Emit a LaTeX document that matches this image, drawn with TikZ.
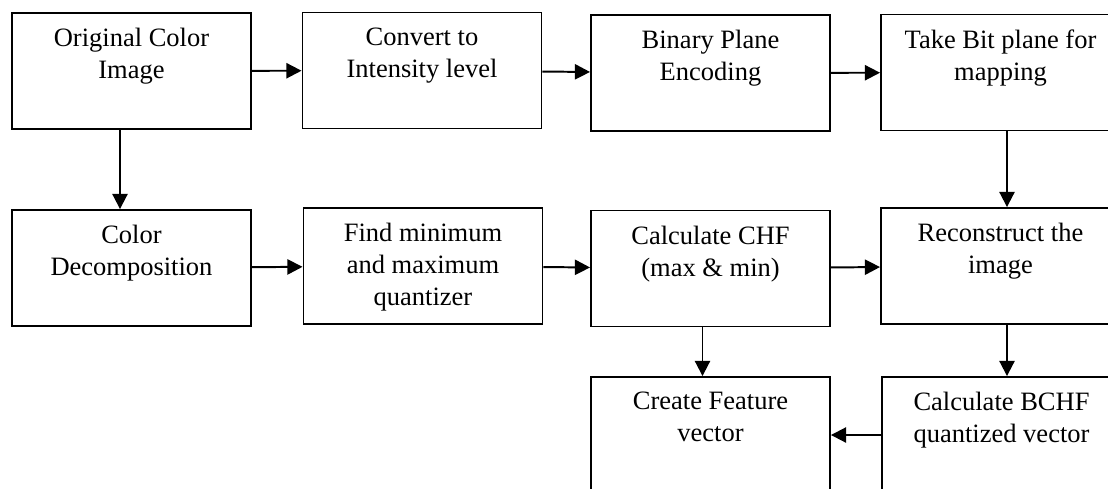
\documentclass[tikz,border=0pt]{standalone}
\usepackage{fontspec}
\setmainfont{Liberation Serif}
\usetikzlibrary{arrows.meta,positioning,calc}

\begin{document}
\begin{tikzpicture}[
  font=\fontsize{18.85}{22.76}\selectfont,
  stage/.style={draw=black, line width=1.35pt, minimum width=5.975cm, minimum height=2.9cm, inner sep=0pt},
  caption/.style={align=center, inner sep=0pt, anchor=north},
  arrow/.style={-{Triangle[length=3.8mm, width=3.8mm]}, line width=1.4pt, draw=black}
]
\useasboundingbox (0,0) rectangle (27.7,-12.2);
\clip (0,0) rectangle (27.7,-12.2);

% first row
\node[stage] (orig) at (3.2875,-1.775) {};
\node[stage] (conv) at (10.55,-1.7625) {};
\node[stage] (bin) at (17.7625,-1.825) {};
\node[stage] (take) at (25.0125,-1.8125) {};

% second row
\node[stage] (decomp) at (3.2875,-6.70) {};
\node[stage] (quant) at (10.575,-6.65) {};
\node[stage] (chf) at (17.7625,-6.7125) {};
\node[stage] (recon) at (25.0125,-6.65) {};

% third row
\node[stage] (feat) at (17.7625,-10.875) {};
\node[stage] (bchf) at (25.0375,-10.875) {};

% box texts, set from the top edge
\node[caption, below=0.4cm of orig.north] (origtext) {Original Color\\Image};
\node[caption, below=0.4cm of conv.north] (convtext) {Convert to\\Intensity level};
\node[caption, below=0.4cm of bin.north] (bintext) {Binary Plane\\Encoding};
\node[caption, below=0.4cm of take.north] (taketext) {Take Bit plane for\\mapping};
\node[caption, below=0.4cm of decomp.north] (decomptext) {Color\\Decomposition};
\node[caption, below=0.4cm of quant.north] (quanttext) {Find minimum\\and maximum\\quantizer};
\node[caption, below=0.4cm of chf.north] (chftext) {Calculate CHF\\(max \& min)};
\node[caption, below=0.4cm of recon.north] (recontext) {Reconstruct the\\image};
\node[caption, below=0.4cm of feat.north] (feattext) {Create Feature\\vector};
\node[caption, below=0.4cm of bchf.north] (bchftext) {Calculate BCHF\\quantized vector};

\draw[arrow] (orig) -- (conv);
\draw[arrow] (conv) -- (bin);
\draw[arrow] (bin) -- (take);
\draw[arrow] (decomp) -- (quant);
\draw[arrow] (quant) -- (chf);
\draw[arrow] (chf) -- (recon);
\draw[arrow] (bchf) -- (feat);

\draw[arrow] ([xshift=-0.2875cm]orig.south) -- ([xshift=-0.2875cm]orig.south |- decomp.north);
\draw[arrow] ([xshift=0.1625cm]take.south) -- ([xshift=0.1625cm]take.south |- recon.north);
\draw[arrow] ([xshift=-0.2cm]chf.south) -- ([xshift=-0.2cm]chf.south |- feat.north);
\draw[arrow] ([xshift=0.1625cm]recon.south) -- ([xshift=0.1625cm]recon.south |- bchf.north);

\end{tikzpicture}
\end{document}
